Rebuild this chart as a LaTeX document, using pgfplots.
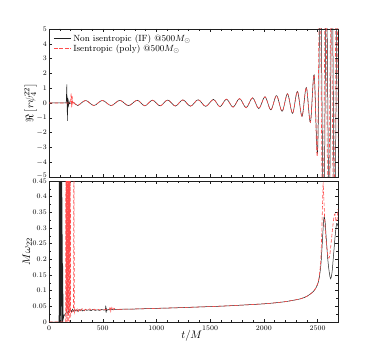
\documentclass[border=0pt]{standalone}
\usepackage{pgfplots}
\pgfplotsset{compat=1.18}
\usepackage{pgfplotstable}

\definecolor{polyred}{rgb}{1,0.3,0.3}
\definecolor{ifblack}{rgb}{0.12,0.12,0.12}

% Re[r psi4^22] in units of 1e-3
\pgfplotstableread{
t v
0 0
160 0
166 1.25
171 -1.2
176 0.35
181 -0.2
187 0.1
193 -0.06
200 0
}\psiIFjunk
\pgfplotstableread{
t v
200 0
232 0.03
268 -0.17
341 0.17
418 -0.17
497 0.175
578 -0.175
659 0.18
740 -0.18
821 0.185
892 -0.19
963 0.19
1034 -0.195
1105 0.2
1176 -0.205
1246 0.21
1317 -0.215
1388 0.22
1459 -0.23
1530 0.24
1591 -0.25
1652 0.26
1713 -0.28
1774 0.3
1835 -0.32
1895 0.35
1953 -0.38
2010 0.42
2065 -0.46
2118 0.5
2170 -0.56
2220 0.62
2267 -0.7
2312 0.78
2355 -0.9
2395 1.05
2433 -1.3
2468 1.9
2500 -3.3
2528 8
2556 -9
2582 8
2608 -8
2634 9
2658 -8
2684 8
2700 0
}\psiIF
\pgfplotstableread{
t v
0 0
195 0
201 0.1
206 0.65
211 -0.3
216 0.45
221 -0.15
227 0.05
232 0.03
}\psiPolyjunk
\pgfplotstableread{
t v
232 0.03
268 -0.17
341 0.17
418 -0.17
497 0.175
578 -0.175
659 0.18
740 -0.18
821 0.185
892 -0.19
963 0.19
1034 -0.195
1105 0.2
1176 -0.205
1246 0.21
1317 -0.215
1388 0.22
1459 -0.23
1530 0.24
1591 -0.25
1652 0.26
1713 -0.28
1774 0.3
1835 -0.32
1895 0.35
1953 -0.38
2010 0.42
2065 -0.46
2118 0.5
2170 -0.56
2220 0.62
2267 -0.7
2312 0.78
2355 -0.9
2395 1.05
2433 -1.3
2468 1.9
2498 -3.5
2522 9
2548 -9
2574 8
2600 -9
2626 8
2650 -9
2676 9
2698 -8
}\psiPoly

% M omega_22
\pgfplotstableread{
t w
0 0
90 0
93 0
95 0.6
98 0
100 0.6
103 0.02
105 0.6
108 0
110 0.6
113 0.05
115 0.6
118 0
120 0.6
123 0
125 0.28
127 0
128 0.18
130 0.02
131 0.09
133 0.01
140 0.02
150 0.025
160 0.03
170 0.028
180 0.036
190 0.031
200 0.04
210 0.033
220 0.041
230 0.034
240 0.04
250 0.035
260 0.039
270 0.033
280 0.04
290 0.036
300 0.041
310 0.035
320 0.038
330 0.036
340 0.04
350 0.037
370 0.039
390 0.036
410 0.04
430 0.037
450 0.039
470 0.037
490 0.04
510 0.038
525 0.039
528 0.052
531 0.029
534 0.045
537 0.036
545 0.039
560 0.04
580 0.039
600 0.041
620 0.04
650 0.0405
}\omIFjunk
\pgfplotstableread{
t w
650 0.0405
800 0.0415
1000 0.0435
1200 0.0455
1400 0.048
1600 0.0505
1800 0.054
2000 0.058
2100 0.061
2200 0.065
2300 0.071
2350 0.075
2400 0.082
2450 0.094
2480 0.106
2500 0.12
2515 0.14
2530 0.18
2540 0.23
2550 0.29
2560 0.335
2570 0.32
2580 0.27
2595 0.2
2610 0.155
2622 0.138
2635 0.16
2650 0.22
2665 0.28
2678 0.315
2690 0.305
}\omIF
\pgfplotstableread{
t w
0 0
150 0
155 0
157 0.6
160 0
162 0.6
165 0.03
167 0.6
170 0
172 0.6
175 0.04
177 0.6
180 0
182 0.6
185 0.02
187 0.6
190 0
192 0.6
196 0.03
198 0.6
202 0.02
210 0.03
220 0.035
228 0.04
232 0.6
236 0.03
245 0.042
255 0.036
265 0.044
275 0.035
285 0.043
295 0.037
310 0.042
325 0.036
340 0.041
360 0.038
380 0.042
400 0.037
420 0.041
440 0.038
460 0.04
480 0.038
500 0.04
520 0.039
540 0.041
560 0.038
570 0.049
575 0.034
585 0.046
595 0.036
605 0.044
620 0.04
650 0.0405
}\omPolyjunk
\pgfplotstableread{
t w
650 0.0405
800 0.0415
1000 0.0435
1200 0.0455
1400 0.048
1600 0.0505
1800 0.054
2000 0.058
2100 0.061
2200 0.065
2300 0.071
2350 0.075
2400 0.082
2450 0.094
2480 0.107
2500 0.122
2515 0.145
2530 0.2
2540 0.3
2547 0.39
2552 0.44
2560 0.38
2570 0.3
2585 0.24
2600 0.205
2612 0.21
2625 0.25
2640 0.3
2652 0.335
2662 0.345
2672 0.32
2682 0.33
2690 0.36
}\omPoly

\begin{document}
\begin{tikzpicture}
\useasboundingbox (0,0) rectangle (374bp,362bp);
\pgfplotsset{
  every axis/.append style={
    scale only axis, width=289bp,
    xmin=0, xmax=2690,
    xtick={0,500,...,2500},
    minor x tick num=4,
    tick align=inside,
    major tick length=3bp, minor tick length=1.6bp,
    axis line style={ifblack, line width=0.6pt},
    every tick/.style={ifblack, line width=0.4pt},
    tick label style={font=\fontsize{7}{8}\selectfont},
    yticklabel style={inner sep=1pt, xshift=-1pt},
    xticklabel style={/pgf/number format/set thousands separator={}},
    label style={font=\fontsize{11}{12}\selectfont},
  },
  ifline/.style={ifblack, line width=0.5pt},
  polyline/.style={polyred, line width=0.6pt, dash pattern=on 3.5bp off 2bp},
}
% top panel
\begin{axis}[
  at={(49bp,185bp)}, anchor=south west, height=148bp,
  ymin=-5, ymax=5, ytick={-5,-4,...,5},
  yticklabels={\raisebox{3.5pt}{$-5$},$-4$,$-3$,$-2$,$-1$,$0$,$1$,$2$,$3$,$4$,$5$},
  xticklabels={},
  ylabel={$\Re\left[r\psi_4^{22}\right]$},
  y label style={at={(axis description cs:-0.064,0.5)}, anchor=center},
  legend style={at={(axis description cs:0.012,0.985)}, anchor=north west,
    draw=none, fill=none, font=\fontsize{9}{10}\selectfont,
    row sep=-2pt, inner sep=1pt},
  legend cell align=left,
]
\addplot[ifline, smooth, tension=0.55] table[x=t,y=v] {\psiIF};
\addlegendentry{Non isentropic (IF) @$500M_\odot$}
\addplot[polyline, smooth, tension=0.55] table[x=t,y=v] {\psiPoly};
\addlegendentry{Isentropic (poly) @$500M_\odot$}
\addplot[ifline, forget plot] table[x=t,y=v] {\psiIFjunk};
\addplot[polyline, forget plot] table[x=t,y=v] {\psiPolyjunk};
\node[anchor=south west, inner sep=0.5pt, font=\fontsize{5}{6}\selectfont]
  at (axis description cs:-0.005,1.0) {x $10^{-3}$};
\end{axis}
% bottom panel
\begin{axis}[
  at={(49bp,40bp)}, anchor=south west, height=141bp,
  ymin=0, ymax=0.45, ytick={0,0.05,...,0.45},
  yticklabels={0,0.05,0.1,0.15,0.2,0.25,0.3,0.35,0.4,\raisebox{-3.5pt}{0.45}},
  minor y tick num=1,
  xlabel={$t/M$}, ylabel={$M\omega_{22}$},
  x label style={at={(axis description cs:0.494,-0.1)}, anchor=center},
  y label style={at={(axis description cs:-0.075,0.5)}, anchor=center},
]
\addplot[ifline] table[x=t,y=w] {\omIFjunk};
\addplot[ifline, smooth] table[x=t,y=w] {\omIF};
\addplot[polyline] table[x=t,y=w] {\omPolyjunk};
\addplot[polyline, smooth] table[x=t,y=w] {\omPoly};
\end{axis}
\end{tikzpicture}
\end{document}
